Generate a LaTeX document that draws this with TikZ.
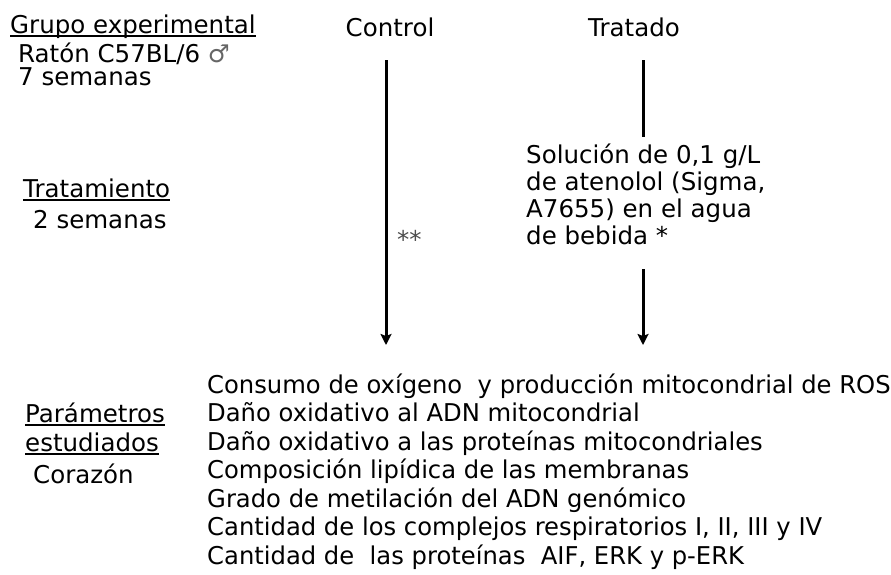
\documentclass[tikz,border=0pt]{standalone}
\usepackage{fontspec}
\setmainfont{DejaVu Sans}
\newfontfamily\listfont[FakeStretch=0.99]{DejaVu Sans}
\usetikzlibrary{arrows.meta,positioning}

% underlined heading
\newcommand{\undl}[1]{\setbox0\hbox{#1}\rlap{\rule[-4pt]{\wd0}{1.6pt}}\box0}

\begin{document}
\begin{tikzpicture}[
    x=1pt, y=-1pt,
    txt/.style={inner sep=0pt, anchor=base west, font=\fontsize{24.5}{27}\selectfont},
    head/.style={inner sep=0pt, anchor=base, font=\fontsize{24.5}{27}\selectfont},
    block/.style={txt, align=left},
    arr/.style={-{Stealth[length=11pt, width=11pt, inset=2pt]}, line width=3pt},
    seg/.style={line width=3pt}
]
    \useasboundingbox (0,0) rectangle (891,574);

    % Left column
    \node[txt] (grupo) at (10,33) {\undl{Grupo experimental}};
    \node[txt] (raton) at (18,62) {Ratón C57BL/6 \textcolor{black!60}{♂}};
    \node[txt] (edad) at (18,85) {7 semanas};
    \node[txt] (tratamiento) at (23,197) {\undl{Tratamiento}};
    \node[txt] (duracion) at (33,228) {2 semanas};
    \node[txt] (param1) at (25,422) {\undl{Parámetros}};
    \node[txt] (param2) at (25,451) {\undl{estudiados}};
    \node[txt] (organo) at (33,483) {Corazón};

    % Groups
    \node[head] (control) at (390,36) {Control};
    \node[head] (tratado) at (634,36) {Tratado};

    % Treatment (anchored at the last line)
    \node[block] (solucion) at (526,244) {Solución de 0,1 g/L\\de atenolol (Sigma,\\A7655) en el agua\\de bebida *};
    \node[txt] (nota) at (397,248) {\textcolor{black!70}{**}};

    % Parameters (anchored at the last line)
    \node[block, font=\listfont\fontsize{24.5}{28.5}\selectfont] (lista) at (207,564)
        {Consumo de oxígeno\ \ y producción mitocondrial de ROS\\
         Daño oxidativo al ADN mitocondrial\\
         Daño oxidativo a las proteínas mitocondriales\\
         Composición lipídica de las membranas\\
         Grado de metilación del ADN genómico\\
         Cantidad de los complejos respiratorios I, II, III y IV\\
         Cantidad de\ \ las proteínas\ \ AIF, ERK y p-ERK};

    % Connectors
    \coordinate (ctrl-a) at (386,60);
    \coordinate (ctrl-b) at (386,345);
    \coordinate (trat-a) at (643,60);
    \coordinate (trat-b) at (643,137);
    \coordinate (trat-c) at (643,269);
    \coordinate (trat-d) at (643,345);

    \draw[arr] (ctrl-a) -- (ctrl-b);
    \draw[seg] (trat-a) -- (trat-b);
    \draw[arr] (trat-c) -- (trat-d);

\end{tikzpicture}
\end{document}
